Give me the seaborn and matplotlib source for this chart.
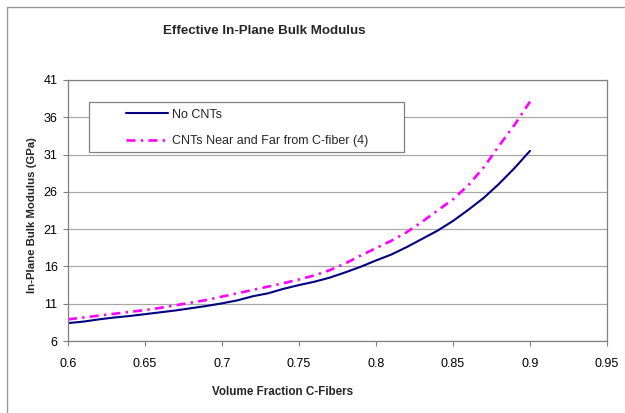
import numpy as np
import pandas as pd
import matplotlib
matplotlib.use("Agg")
import matplotlib.pyplot as plt
import seaborn as sns
from matplotlib.patches import Rectangle
from matplotlib.lines import Line2D

# ---- data ----
vol_fraction = [0.60, 0.61, 0.62, 0.63, 0.64, 0.65, 0.66, 0.67, 0.68, 0.69,
                0.70, 0.71, 0.72, 0.73, 0.74, 0.75, 0.76, 0.77, 0.78, 0.79,
                0.80, 0.81, 0.82, 0.83, 0.84, 0.85, 0.86, 0.87, 0.88, 0.89, 0.90]
no_cnts = [8.4, 8.6, 8.9, 9.15, 9.35, 9.6, 9.85, 10.1, 10.4, 10.7,
           11.05, 11.45, 12.0, 12.4, 13.0, 13.5, 13.95, 14.5, 15.2, 15.95,
           16.8, 17.6, 18.6, 19.7, 20.8, 22.1, 23.6, 25.2, 27.1, 29.2, 31.5]
cnts_near_far = [8.9, 9.15, 9.4, 9.65, 9.9, 10.15, 10.45, 10.8, 11.15, 11.5,
                 11.95, 12.4, 12.85, 13.3, 13.75, 14.25, 14.8, 15.5, 16.4, 17.45,
                 18.45, 19.45, 20.6, 22.0, 23.5, 25.0, 26.9, 29.3, 32.2, 35.0, 38.1]
series_names = ["No CNTs", "CNTs Near and Far from C-fiber (4)"]
x_ticks = [0.6, 0.65, 0.7, 0.75, 0.8, 0.85, 0.9, 0.95]
x_ticklabels = ["0.6", "0.65", "0.7", "0.75", "0.8", "0.85", "0.9", "0.95"]
y_ticks = [6, 11, 16, 21, 26, 31, 36, 41]

df = pd.concat([
    pd.DataFrame({"vf": vol_fraction, "mod": no_cnts, "series": series_names[0]}),
    pd.DataFrame({"vf": vol_fraction, "mod": cnts_near_far, "series": series_names[1]}),
])

sns.set_theme(style="white")
plt.rcParams["font.family"] = ["Liberation Sans", "DejaVu Sans"]

fig = plt.figure(figsize=(6.25, 4.13), dpi=100)
fig.patch.set_facecolor("white")
ax = fig.add_axes([68 / 625, 1 - 341 / 413, 539 / 625, 261 / 413])

palette = {series_names[0]: "#000080", series_names[1]: "#FF00FF"}
dashes = {series_names[0]: "", series_names[1]: (3.4, 2.0, 0.9, 2.0)}
sns.lineplot(data=df, x="vf", y="mod", hue="series", style="series",
             hue_order=series_names, style_order=series_names,
             palette=palette, dashes=dashes, ax=ax, linewidth=1.6)
lg = ax.get_legend()
if lg is not None:
    lg.remove()
lines = ax.lines[:2]
lines[0].set_linewidth(1.5)
lines[1].set_linewidth(1.9)

ax.set_xlim(0.6, 0.95)
ax.set_ylim(6, 41)
ax.set_xticks(x_ticks)
ax.set_xticklabels(x_ticklabels)
ax.set_yticks(y_ticks)
ax.set_xlabel("")
ax.set_ylabel("")
ax.grid(axis="y", color="#A8A8A8", linewidth=0.9)
ax.grid(axis="x", visible=False)
for s in ax.spines.values():
    s.set_color("#808080")
    s.set_linewidth(0.9)
ax.tick_params(axis="both", which="major", direction="out", length=3.5,
               width=0.8, color="#808080", labelsize=9, labelcolor="black",
               bottom=True, left=True)
ax.tick_params(axis="x", pad=9)
ax.tick_params(axis="y", pad=4)

# legend frame and legend
ax.add_patch(Rectangle((0.039, 0.724), 0.584, 0.192, transform=ax.transAxes,
                       facecolor="white", edgecolor="#808080", linewidth=0.9,
                       zorder=4))
leg = ax.legend(handles=lines, labels=series_names, loc="upper left",
                bbox_to_anchor=(0.1076, 0.890), borderaxespad=0, borderpad=0,
                frameon=False, handlelength=3.4, handletextpad=0.25,
                labelspacing=1.18, fontsize=9)
leg.set_zorder(5)

# texts
fig.text(264 / 625, 1 - 31 / 413, "Effective In-Plane Bulk Modulus",
         ha="center", va="center", fontsize=9.6, fontweight="bold")
fig.text(283 / 625, 1 - 392 / 413, "Volume Fraction C-Fibers",
         ha="center", va="center", fontsize=8.4, fontweight="bold")
fig.text(32 / 625, 1 - 215 / 413, "In-Plane Bulk Modulus (GPa)",
         ha="center", va="center", rotation=90, fontsize=8.2, fontweight="bold")

# chart frame (left and top edges visible)
fig.add_artist(Line2D([7 / 625, 7 / 625], [0, 1 - 7 / 413], color="#999999",
                      linewidth=1.0, transform=fig.transFigure))
fig.add_artist(Line2D([7 / 625, 1], [1 - 7 / 413, 1 - 7 / 413], color="#999999",
                      linewidth=1.0, transform=fig.transFigure))

fig.savefig("out.png", dpi=100)
